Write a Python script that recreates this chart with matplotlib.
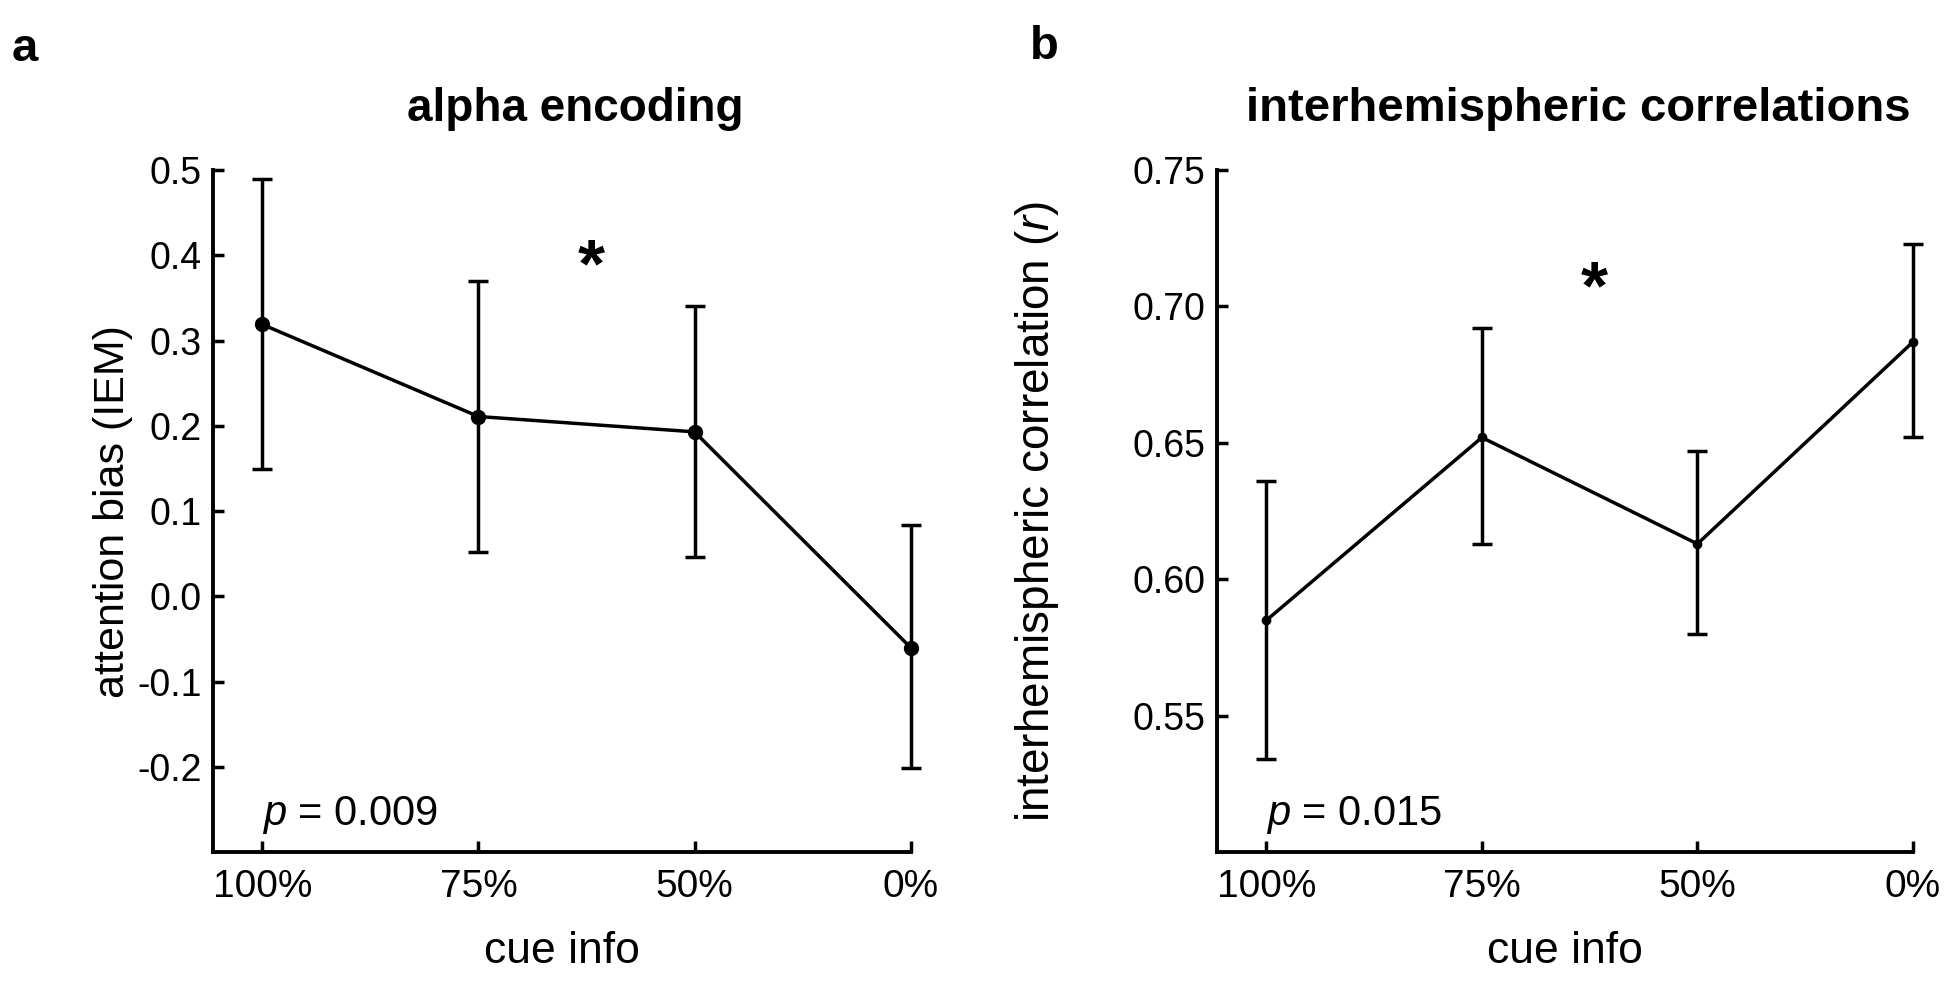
import matplotlib
matplotlib.use('Agg')
import matplotlib.pyplot as plt
import numpy as np

plt.rcParams['font.family'] = ['Liberation Sans', 'DejaVu Sans']
plt.rcParams['axes.unicode_minus'] = False
plt.rcParams['mathtext.fontset'] = 'custom'
plt.rcParams['mathtext.it'] = 'Liberation Sans:italic'

# data
cue_labels = ['100%', '75%', '50%', '0%']

alpha_mean = [0.319, 0.211, 0.193, -0.060]
alpha_upper = [0.489, 0.370, 0.340, 0.084]
alpha_lower = [0.150, 0.052, 0.046, -0.201]

corr_mean = [0.585, 0.652, 0.613, 0.687]
corr_upper = [0.636, 0.692, 0.647, 0.723]
corr_lower = [0.534, 0.613, 0.580, 0.652]

alpha_ticks = [-0.2, -0.1, 0.0, 0.1, 0.2, 0.3, 0.4, 0.5]
corr_ticks = [0.55, 0.60, 0.65, 0.70, 0.75]


def draw_panel(ax, mean, lower, upper, yticks, ylim, fmt, ylabel, ylabel_x, ylabel_fs,
               title, title_fs, ptext, star_y, msize):
    x = np.arange(len(mean))
    mean = np.array(mean)
    err = [mean - np.array(lower), np.array(upper) - mean]
    eb = ax.errorbar(x, mean, yerr=err, color='black', lw=2.5, elinewidth=2.5,
                     capsize=7, capthick=2.5, marker='o', markersize=msize)
    for art in eb.get_children():
        art.set_clip_on(False)
    ax.set_xlim(-0.23, 3)
    ax.set_ylim(*ylim)
    ax.set_xticks(x)
    ax.set_xticklabels(cue_labels)
    ax.set_yticks(yticks)
    ax.set_yticklabels([fmt % v for v in yticks])
    ax.tick_params(direction='in', length=8, width=2.5)
    ax.tick_params(axis='y', pad=8, labelsize=27)
    ax.tick_params(axis='x', pad=12, labelsize=28)
    for s in ['top', 'right']:
        ax.spines[s].set_visible(False)
    for s in ['left', 'bottom']:
        ax.spines[s].set_linewidth(2.8)
    ax.set_xlabel('cue info', fontsize=32, va='center')
    ax.xaxis.set_label_coords(0.5, -0.145)
    ax.set_ylabel(ylabel, fontsize=ylabel_fs, va='center')
    ax.yaxis.set_label_coords(ylabel_x, 0.5)
    ax.text(0.52, 1.089, title, fontsize=title_fs, fontweight='bold', ha='center', va='center',
            transform=ax.transAxes)
    ax.text(0, ylim[0] + (ylim[1] - ylim[0]) * 0.055, ptext, fontsize=30,
            ha='left', va='center')
    ax.text(1.52, star_y, '*', fontsize=50, fontweight='bold', ha='center', va='center')


fig = plt.figure(figsize=(19.5, 9.83), dpi=100)
ax1 = fig.add_axes([0.109, 0.133, 0.358, 0.694])
ax2 = fig.add_axes([0.624, 0.133, 0.357, 0.694])

draw_panel(ax1, alpha_mean, alpha_lower, alpha_upper, alpha_ticks, (-0.3, 0.5), '%.1f',
           'attention bias (IEM)', -0.142, 31, 'alpha encoding', 33, '$p$ = 0.009', 0.385, 10)
draw_panel(ax2, corr_mean, corr_lower, corr_upper, corr_ticks, (0.5, 0.75), '%.2f',
           'interhemispheric correlation ($r$)', -0.258, 33, 'interhemispheric correlations', 34,
           '$p$ = 0.015', 0.706, 6)

fig.text(0.006, 0.95, 'a', fontsize=34, fontweight='bold', va='center')
fig.text(0.528, 0.952, 'b', fontsize=34, fontweight='bold', va='center')

fig.savefig('out.png', dpi=100)
